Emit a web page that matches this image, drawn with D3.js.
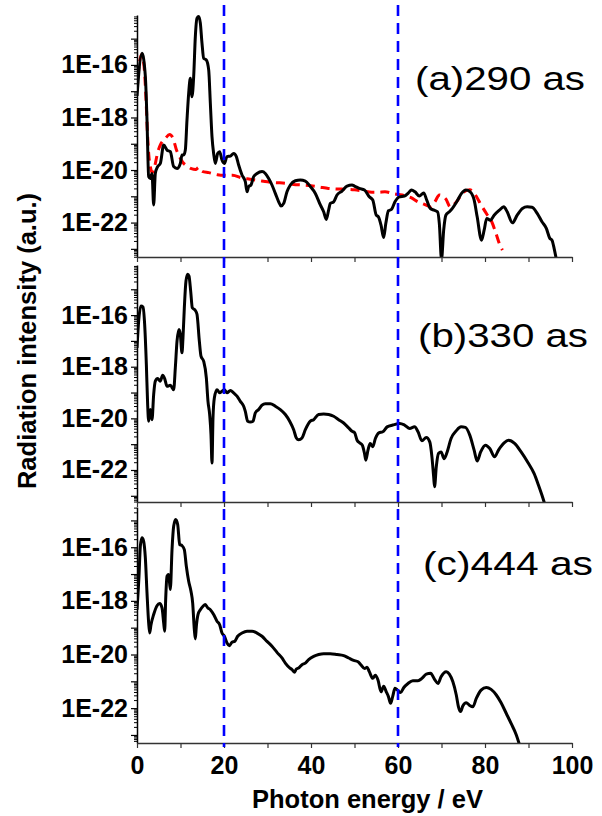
<!DOCTYPE html>
<html lang="en">
<head>
<meta charset="utf-8">
<title>Radiation spectra</title>
<script src="https://cdn.jsdelivr.net/npm/d3@7"></script>
<style>
  body { margin: 0; background: #fff; }
  text { font-family: "Liberation Sans", Arial, Helvetica, sans-serif; }
</style>
</head>
<body>
<svg id="chart" width="602" height="816"></svg>
<script>
// [photon energy (eV), log10 of radiation intensity]
const spectrumA = [
  [0,-17.18],[1.15,-15.56],[1.92,-16.44],[2.3,-18.1],[2.68,-20.25],[3.07,-20.32],[3.45,-20.13],[3.83,-21.33],
  [4.21,-20.13],[4.75,-19.87],[5.36,-19.75],[6.13,-19.05],[6.9,-19.24],[7.66,-19.3],[8.43,-19.87],[9.2,-19.94],
  [9.96,-19.75],[10.34,-19.43],[10.73,-19.43],[11.11,-19.24],[11.49,-18.1],[11.88,-17.08],[12.26,-16.51],
  [12.64,-17.21],[13.03,-16.44],[13.41,-14.92],[13.79,-14.22],[14.18,-14.16],[14.56,-14.41],[14.94,-15.17],
  [15.33,-15.75],[15.94,-15.81],[16.48,-16.19],[16.86,-17.46],[17.24,-18.73],[17.62,-19.37],[18.01,-19.75],
  [18.54,-19.37],[19.0,-19.3],[19.54,-19.62],[20.08,-19.75],[20.69,-19.49],[21.46,-19.47],[22.22,-19.37],
  [22.84,-19.49],[23.37,-19.81],[24.14,-20.19],[24.9,-20.44],[25.29,-20.83],[25.67,-20.63],[26.21,-20.57],
  [26.82,-20.25],[27.59,-20.13],[28.74,-20.06],[29.5,-20.13],[30.27,-20.32],[31.03,-20.57],[31.8,-20.89],
  [32.57,-21.21],[33.1,-21.37],[33.72,-21.27],[34.48,-20.83],[35.25,-20.57],[36.4,-20.41],[37.55,-20.38],
  [38.7,-20.42],[39.85,-20.63],[41.0,-20.89],[42.15,-21.33],[42.91,-21.59],[43.52,-21.88],[44.06,-21.52],
  [44.44,-21.27],[45.21,-21.21],[45.98,-20.95],[47.13,-20.8],[48.28,-20.61],[49.43,-20.57],[50.0,-20.61],
  [51.1,-20.7],[52.3,-20.76],[53.4,-21.02],[54.2,-21.14],[55.0,-21.72],[55.5,-21.78],[56.1,-22.1],[56.7,-22.57],
  [57.2,-22.03],[57.8,-21.55],[58.5,-21.5],[59.3,-21.21],[60.3,-21.02],[61.5,-20.99],[62.4,-20.87],[63.1,-20.76],
  [63.9,-20.83],[64.9,-20.99],[65.9,-20.87],[66.6,-21.14],[67.4,-21.46],[68.3,-21.53],[69.1,-21.59],[69.5,-22.03],
  [70.0,-23.4],[70.5,-22.29],[71.0,-21.72],[71.8,-21.59],[72.5,-21.46],[73.5,-21.21],[74.6,-20.89],[75.6,-20.76],
  [76.6,-20.83],[77.5,-21.14],[78.2,-21.78],[79.2,-22.67],[79.8,-22.29],[80.4,-21.84],[81.2,-21.91],[82.1,-21.72],
  [83.3,-21.53],[84.3,-21.4],[85.1,-21.59],[86.3,-22.01],[87.4,-21.72],[88.6,-21.46],[89.7,-21.4],[90.8,-21.42],
  [92.0,-21.65],[93.1,-21.97],[94.1,-22.22],[94.9,-22.6],[95.4,-22.67],[95.9,-22.99],[96.4,-23.4]
];

// red dashed comparison curve in panel (a)
const spectrumARef = [
  [0,-17.0],[0.5,-16.0],[1.1,-15.6],[1.7,-16.2],[2.1,-17.4],[2.4,-18.6],[2.7,-19.4],[3.1,-19.9],[3.5,-20.1],
  [4.0,-19.9],[4.8,-19.3],[5.5,-19.0],[6.5,-18.8],[7.5,-18.65],[8.3,-18.8],[9.0,-19.2],[9.8,-19.5],[10.5,-19.7],
  [11.5,-19.85],[12.5,-19.95],[13.5,-19.98],[14.2,-19.9],[15.0,-20.05],[16.5,-20.1],[18.5,-20.18],[20,-20.2],
  [22,-20.2],[24,-20.3],[26,-20.35],[28,-20.4],[30,-20.45],[32,-20.48],[34,-20.5],[36,-20.55],[38,-20.57],
  [40,-20.6],[42,-20.65],[44,-20.7],[46,-20.72],[48,-20.73],[50,-20.75],[52,-20.8],[54,-20.85],[55.5,-20.85],
  [57,-20.83],[59,-20.9],[61,-20.95],[63,-21.05],[64.5,-21.2],[66,-21.3],[67.5,-21.4],[68.5,-21.2],[69.5,-20.95],
  [71,-21.1],[72,-21.4],[73.5,-21.2],[75,-20.85],[76.5,-20.75],[78,-21.0],[79,-21.3],[80.5,-21.7],[81.5,-21.95],
  [82.5,-22.4],[83.3,-22.8],[84,-23.05]
];

const spectrumB = [
  [0,-17.27],[0.38,-16.23],[0.92,-15.65],[1.38,-15.69],[1.76,-16.36],[2.15,-17.91],[2.45,-19.47],[2.68,-20.11],
  [3.07,-19.66],[3.45,-20.05],[3.83,-19.08],[4.21,-18.56],[4.75,-18.46],[5.36,-18.56],[5.9,-18.33],[6.36,-18.46],
  [6.9,-18.76],[7.66,-18.72],[8.43,-18.89],[8.81,-18.04],[9.2,-17.01],[9.66,-16.56],[9.96,-16.75],[10.34,-17.46],
  [10.57,-16.88],[10.88,-15.72],[11.26,-14.68],[11.65,-14.42],[11.95,-14.49],[12.34,-15.07],[12.72,-15.72],
  [13.41,-15.82],[13.79,-15.97],[14.33,-17.01],[14.71,-17.59],[15.33,-17.79],[15.94,-18.43],[16.32,-19.34],
  [16.7,-19.85],[17.01,-20.63],[17.24,-21.73],[17.47,-19.98],[17.78,-19.21],[18.39,-18.89],[19.0,-19.01],
  [19.54,-18.95],[20.08,-18.89],[20.69,-19.01],[21.46,-18.92],[22.22,-19.01],[22.99,-19.14],[23.75,-19.34],
  [24.52,-19.53],[24.9,-19.73],[25.44,-20.11],[26.05,-20.14],[26.67,-20.11],[27.2,-19.79],[27.97,-19.66],
  [28.74,-19.49],[29.5,-19.43],[30.65,-19.43],[31.8,-19.53],[32.95,-19.66],[34.1,-19.85],[35.1,-20.11],
  [36.02,-20.44],[36.63,-20.76],[37.16,-20.83],[37.93,-20.76],[38.7,-20.44],[39.85,-20.11],[40.61,-20.05],
  [41.76,-19.85],[42.91,-19.83],[44.06,-19.85],[45.21,-19.92],[46.36,-20.05],[47.51,-20.18],[48.66,-20.37],
  [49.43,-20.5],[50.0,-20.55],[50.6,-20.85],[51.2,-20.95],[51.8,-21.04],[52.3,-21.36],[52.6,-21.62],[53.1,-21.23],
  [53.6,-20.97],[54.2,-21.1],[54.8,-20.78],[55.6,-20.56],[56.5,-20.52],[57.5,-20.33],[58.8,-20.26],[60.4,-20.2],
  [61.5,-20.26],[62.7,-20.39],[63.8,-20.33],[64.6,-20.52],[65.5,-20.87],[66.5,-20.74],[67.3,-20.91],[67.8,-21.49],
  [68.2,-22.27],[68.4,-22.65],[68.8,-21.88],[69.3,-21.36],[69.9,-21.3],[70.6,-21.56],[71.3,-21.3],[72.2,-20.78],
  [73.4,-20.48],[74.5,-20.33],[75.5,-20.35],[76.5,-20.65],[77.5,-21.23],[78.2,-21.65],[79.0,-21.3],[80.1,-21.04],
  [81.1,-21.17],[82.2,-21.49],[83.1,-21.23],[84.4,-20.95],[85.4,-20.85],[86.8,-20.97],[88.3,-21.3],[89.9,-21.72],
  [91.3,-22.14],[92.3,-22.59],[93.1,-22.98],[93.7,-23.3]
];

const spectrumC = [
  [0,-18.33],[0.46,-17.08],[0.77,-15.96],[1.15,-15.65],[1.53,-15.78],[1.92,-16.4],[2.3,-17.7],[2.68,-18.82],
  [2.91,-19.2],[3.22,-18.89],[3.83,-18.51],[4.6,-18.18],[5.21,-18.1],[5.75,-18.26],[6.13,-18.82],[6.36,-19.13],
  [6.59,-17.95],[6.9,-17.08],[7.28,-17.02],[7.66,-17.58],[8.05,-16.09],[8.43,-15.22],[8.89,-14.97],[9.35,-15.15],
  [9.81,-15.9],[10.34,-15.94],[10.88,-16.09],[11.34,-16.71],[11.88,-17.27],[12.41,-17.64],[12.8,-18.08],
  [13.18,-19.07],[13.41,-19.42],[13.64,-18.95],[14.02,-18.51],[14.56,-18.33],[15.17,-18.2],[15.71,-18.14],
  [16.25,-18.26],[16.86,-18.33],[17.62,-18.51],[18.39,-18.76],[19.0,-18.89],[19.54,-19.2],[20.08,-19.32],
  [20.69,-19.57],[21.23,-19.67],[21.84,-19.54],[22.45,-19.51],[23.14,-19.32],[24.14,-19.2],[25.29,-19.13],
  [26.44,-19.13],[27.59,-19.2],[28.74,-19.32],[29.89,-19.51],[31.03,-19.69],[32.18,-19.92],[33.33,-20.13],
  [34.1,-20.32],[35.1,-20.5],[35.63,-20.56],[36.17,-20.66],[36.63,-20.54],[37.16,-20.5],[37.93,-20.38],
  [38.7,-20.32],[39.46,-20.19],[40.61,-20.07],[41.76,-20.0],[42.91,-19.97],[44.44,-19.97],[45.98,-20.0],
  [47.51,-20.04],[48.66,-20.13],[49.81,-20.22],[50.8,-20.27],[51.5,-20.39],[52.3,-20.52],[52.9,-20.48],
  [53.4,-20.64],[54.2,-20.89],[54.8,-20.77],[55.4,-20.95],[56.1,-21.39],[56.7,-21.18],[57.3,-21.39],[57.8,-21.57],
  [58.3,-21.82],[58.8,-21.55],[59.3,-21.26],[59.9,-21.33],[60.6,-21.42],[61.3,-21.24],[62.3,-21.08],[63.4,-20.98],
  [64.6,-20.98],[65.5,-20.89],[66.5,-20.73],[67.5,-20.7],[68.4,-20.93],[69.2,-21.08],[69.9,-20.83],[71.1,-20.64],
  [71.8,-20.73],[72.6,-21.01],[73.4,-21.51],[73.9,-21.95],[74.4,-22.13],[74.9,-21.92],[75.7,-21.8],[76.4,-21.89],
  [77.2,-21.95],[78.0,-21.64],[79.1,-21.33],[80.3,-21.23],[81.4,-21.3],[82.6,-21.51],[83.7,-21.8],[84.9,-22.2],
  [86.0,-22.57],[87.2,-23.0],[87.9,-23.35]
];

const panelLabels = ["(a)290 as", "(b)330 as", "(c)444 as"];
const xTickValues = [0, 10, 20, 30, 40, 50, 60, 70, 80, 90, 100];
const yLabelExponents = [-16, -18, -20, -22];
const markerEnergies = [20, 60];

const svg = d3.select("#chart");
const x = d3.scaleLinear().domain([0, 100]).range([137, 572]);

// panel frames (pixel layout) and log10 extents of each y axis
// red curve drawn first so the black one sits on top
const panels = [
  {top: 15,  bottom: 257, lo: -23.31, hi: -14.1,  label: panelLabels[0], lx: 415, ly: 90,
   series: [{data: spectrumARef, color: "#ff0000", dash: "9,6"}, {data: spectrumA, color: "#000"}]},
  {top: 265, bottom: 502, lo: -23.24, hi: -14.06, label: panelLabels[1], lx: 418, ly: 347,
   series: [{data: spectrumB, color: "#000"}]},
  {top: 507, bottom: 743, lo: -23.3,  hi: -14.5,  label: panelLabels[2], lx: 423, ly: 575,
   series: [{data: spectrumC, color: "#000"}]}
];

panels.forEach((p, i) => {
  const isLast = i === panels.length - 1;
  const y = d3.scaleLog().domain([10 ** p.lo, 10 ** p.hi]).range([p.bottom, p.top]);
  const g = svg.append("g");

  g.append("clipPath").attr("id", "clip" + i)
    .append("rect").attr("x", 137).attr("y", p.top - 12)
    .attr("width", 440).attr("height", p.bottom - p.top + 12);

  const line = d3.line()
    .x(d => x(d[0]))
    .y(d => y(10 ** d[1]))
    .curve(d3.curveMonotoneX);

  p.series.forEach(s => {
    g.append("path")
      .attr("clip-path", `url(#clip${i})`)
      .attr("d", line(s.data))
      .attr("fill", "none")
      .attr("stroke", s.color)
      .attr("stroke-width", 3)
      .attr("stroke-linejoin", "round")
      .attr("stroke-dasharray", s.dash || null);
  });

  // y axis: decades (labelled every second one) and minor ticks
  const decades = d3.range(Math.ceil(p.lo), Math.floor(p.hi) + 1).map(e => 10 ** e);
  const minor = [];
  d3.range(Math.floor(p.lo), Math.ceil(p.hi)).forEach(e => {
    for (let k = 2; k <= 9; k++) {
      const v = k * 10 ** e;
      if (Math.log10(v) >= p.lo && Math.log10(v) <= p.hi) minor.push(v);
    }
  });

  const yAxis = g.append("g").attr("transform", "translate(137,0)")
    .call(d3.axisLeft(y).tickValues(decades).tickSize(6).tickSizeOuter(0).tickPadding(3)
      .tickFormat(d => {
        const e = Math.round(Math.log10(d));
        return yLabelExponents.includes(e) ? "1E" + e : "";
      }));
  yAxis.select(".domain").attr("stroke", "#000").attr("stroke-width", 1.5);
  yAxis.selectAll(".tick line").attr("stroke-width", 1.2);
  yAxis.selectAll("text").attr("font-size", "25px").attr("font-weight", "bold")
    .attr("font-family", "'Liberation Sans', Arial, sans-serif").attr("fill", "#000");

  const yMinor = g.append("g").attr("transform", "translate(137,0)")
    .call(d3.axisLeft(y).tickValues(minor).tickSize(3).tickFormat(""));
  yMinor.select(".domain").remove();
  yMinor.selectAll(".tick line").attr("stroke-width", 1);

  // x axis
  const xAxis = g.append("g").attr("transform", `translate(0,${p.bottom})`)
    .call(d3.axisBottom(x).tickValues(xTickValues).tickSize(5).tickSizeOuter(0).tickPadding(8)
      .tickFormat(d => (isLast && d % 20 === 0) ? d : ""));
  xAxis.select(".domain").attr("stroke", "#333").attr("stroke-width", 1.5);
  xAxis.selectAll(".tick line").attr("stroke", "#333").attr("stroke-width", 1.2);
  xAxis.selectAll("text").attr("font-size", "25px").attr("font-weight", "bold")
    .attr("font-family", "'Liberation Sans', Arial, sans-serif").attr("fill", "#000");

  g.append("text")
    .attr("x", p.lx).attr("y", p.ly)
    .attr("font-size", "33px")
    .attr("textLength", 170)
    .attr("lengthAdjust", "spacingAndGlyphs")
    .text(p.label);
});

// vertical guide lines
svg.selectAll(".marker")
  .data(markerEnergies)
  .enter().append("line")
  .attr("class", "marker")
  .attr("x1", d => x(d)).attr("x2", d => x(d))
  .attr("y1", 5).attr("y2", 747)
  .attr("stroke", "#0000ff")
  .attr("stroke-width", 2.6)
  .attr("stroke-dasharray", "11,7");

svg.append("text")
  .attr("transform", "translate(36,341) rotate(-90)")
  .attr("text-anchor", "middle")
  .attr("font-size", "25.5px").attr("font-weight", "bold")
  .text("Radiation intensity (a.u.)");

svg.append("text")
  .attr("x", 367.5).attr("y", 808)
  .attr("text-anchor", "middle")
  .attr("font-size", "25.5px").attr("font-weight", "bold")
  .text("Photon energy / eV");
</script>
</body>
</html>
